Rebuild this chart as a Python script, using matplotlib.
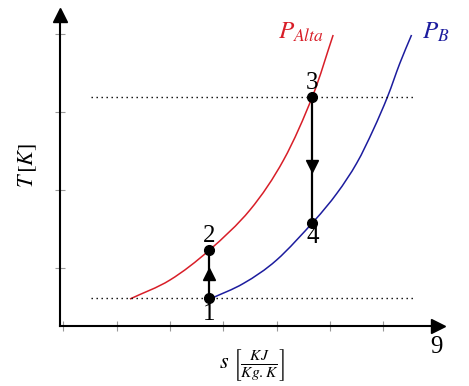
import matplotlib
matplotlib.use("Agg")
import matplotlib.pyplot as plt
from matplotlib.path import Path
from matplotlib.patches import PathPatch
import numpy as np

# T-s diagram of an ideal Brayton cycle
red_s = [3.25, 4.00, 4.74, 5.50, 6.13, 6.67, 7.06]
red_T = [0.598, 0.842, 1.227, 1.742, 2.384, 3.198, 3.991]
blue_s = [4.75, 5.38, 6.00, 6.69, 7.13, 7.50, 7.81, 8.08, 8.31, 8.53]
blue_T = [0.598, 0.799, 1.099, 1.591, 1.956, 2.342, 2.770, 3.198, 3.627, 3.991]

state_s = [4.74, 4.74, 6.67, 6.67]
state_T = [0.607, 1.227, 3.198, 1.578]
state_labels = ["1", "2", "3", "4"]
label_dy = [-11, 10, 10, -10]  # points below / above each state

iso_T = [state_T[0], state_T[2]]
iso_s_range = [2.51, 8.56]

x_ticks = [2, 3, 4, 5, 6, 7, 8]
y_ticks = [1, 2, 3, 4]
x_end_label = "9"

red = "#d81e28"
blue = "#1c1c9e"


def smooth_path(xs, ys):
    # Catmull-Rom through the read points, drawn as cubic Bezier segments
    p = np.column_stack([xs, ys])
    verts = [p[0]]
    codes = [Path.MOVETO]
    for i in range(len(p) - 1):
        p0 = p[i - 1] if i > 0 else 2 * p[i] - p[i + 1]
        p3 = p[i + 2] if i + 2 < len(p) else 2 * p[i + 1] - p[i]
        c1 = p[i] + (p[i + 1] - p0) / 6
        c2 = p[i + 1] - (p3 - p[i]) / 6
        verts += [c1, c2, p[i + 1]]
        codes += [Path.CURVE4] * 3
    return Path(verts, codes)


plt.rcParams["mathtext.fontset"] = "stix"
plt.rcParams["font.family"] = ["Liberation Serif", "DejaVu Serif"]

fig = plt.figure(figsize=(4.69, 3.86), dpi=100)
ax = fig.add_axes([60 / 469, 60 / 386, 378 / 469, 311 / 386])
ax.set_xlim(1.938, 9.026)
ax.set_ylim(0.251, 4.248)

# axes with arrow heads
for side in ["top", "right"]:
    ax.spines[side].set_visible(False)
for side in ["left", "bottom"]:
    ax.spines[side].set_linewidth(1.5)
ax.plot(1, 0, ">", color="black", ms=10, transform=ax.transAxes, clip_on=False)
ax.plot(0, 1, "^", color="black", ms=10, transform=ax.transAxes, clip_on=False)
ax.set_xticks(x_ticks)
ax.set_yticks(y_ticks)
ax.set_xticklabels([])
ax.set_yticklabels([])
ax.tick_params(direction="inout", length=7, width=0.8, color="0.6")
ax.text(9, -0.068, x_end_label, transform=ax.get_xaxis_transform(),
        ha="center", va="center", fontsize=18)

# isotherms
for t in iso_T:
    ax.plot(iso_s_range, [t, t], color="black", lw=1.0, ls=(0, (1, 2.6)))

# isobars
ax.add_patch(PathPatch(smooth_path(red_s, red_T), fill=False, edgecolor=red, lw=1.1))
ax.add_patch(PathPatch(smooth_path(blue_s, blue_T), fill=False, edgecolor=blue, lw=1.1))
ax.text(6.03, 3.94, r"$P_{Alta}$", color=red, fontsize=18, ha="left", va="baseline")
ax.text(8.72, 3.94, r"$P_{B}$", color=blue, fontsize=18, ha="left", va="baseline")

# compression 1-2 and expansion 3-4
ax.plot(state_s[0:2], state_T[0:2], color="black", lw=1.6)
ax.plot(state_s[2:4], state_T[2:4], color="black", lw=1.6)
ax.plot(state_s[0], 0.919, "^", color="black", ms=9)
ax.plot(state_s[2], 2.307, "v", color="black", ms=9)
ax.plot(state_s, state_T, "o", color="black", ms=7, ls="none")
for s, t, lab, dy in zip(state_s, state_T, state_labels, label_dy):
    ax.annotate(lab, (s, t), xytext=(0, dy), textcoords="offset points",
                ha="center", va="center", fontsize=18)

fig.text(28 / 469, 1 - 166 / 386, r"$T\,[K]$", rotation=90,
         ha="center", va="center", fontsize=16)
fig.text(252 / 469, 1 - 365 / 386, r"$s\ \left[\frac{KJ}{Kg.K}\right]$",
         ha="center", va="center", fontsize=16)

fig.savefig("out.png", dpi=100)
